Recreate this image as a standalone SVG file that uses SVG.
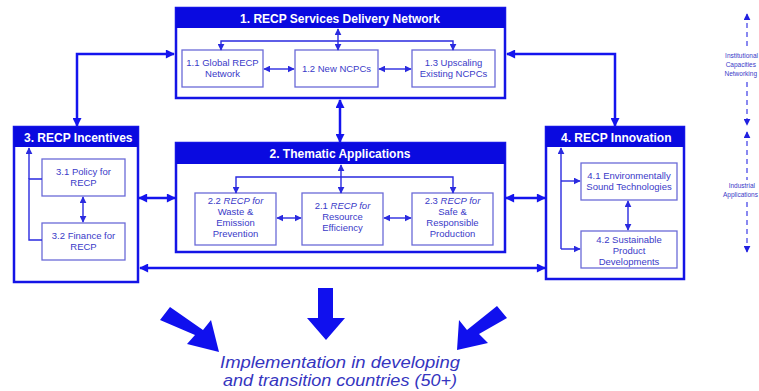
<svg xmlns="http://www.w3.org/2000/svg" width="759" height="391" viewBox="0 0 759 391">
<defs>
<style>
.main{fill:#fff;stroke:#1414e6;stroke-width:2.5}
.hdr{fill:#0a0ae0}
.ht{font-family:"Liberation Sans",Arial,sans-serif;font-weight:bold;font-size:12px;fill:#fff}
.sub{fill:#fff;stroke:#6a6ad8;stroke-width:1.3}
.st{font-family:"Liberation Sans",Arial,sans-serif;font-size:9.5px;fill:#3a3ac8;text-anchor:middle}
.thick{fill:none;stroke:#1414ee;stroke-width:2.5}
.thin{fill:none;stroke:#2a2ae0;stroke-width:1.4}
.dash{fill:none;stroke:#4a4ae8;stroke-width:1.3;stroke-dasharray:5,4}
.side{font-family:"Liberation Sans",Arial,sans-serif;font-size:6.5px;fill:#3a3ac8;text-anchor:end}
.big{fill:#1010ee}
.imp{font-family:"Liberation Sans",Arial,sans-serif;font-style:italic;font-size:16px;fill:#3535c0;text-anchor:middle}
</style>
<marker id="ah" viewBox="0 0 10 10" refX="9" refY="5" markerWidth="10" markerHeight="9" markerUnits="userSpaceOnUse" orient="auto-start-reverse"><path d="M0,0L10,5L0,10z" fill="#1414ee"/></marker>
<marker id="as" viewBox="0 0 10 10" refX="9" refY="5" markerWidth="7" markerHeight="7" markerUnits="userSpaceOnUse" orient="auto-start-reverse"><path d="M0,0L10,5L0,10z" fill="#2a2ae0"/></marker>
<marker id="ad" viewBox="0 0 10 10" refX="9" refY="5" markerWidth="7" markerHeight="7" markerUnits="userSpaceOnUse" orient="auto-start-reverse"><path d="M0,0L10,5L0,10z" fill="#2020e0"/></marker>
</defs>
<rect width="759" height="391" fill="#fff"/>

<g id="box1">
<rect class="main" x="176" y="8" width="329" height="90"/>
<rect class="hdr" x="176" y="8" width="329" height="20"/>
<text class="ht" x="340" y="22.5" text-anchor="middle">1. RECP Services Delivery Network</text>
</g>
<g id="n11"><rect class="sub" x="182" y="50" width="81" height="37"/><text class="st" x="222.5" y="66">1.1 Global RECP</text><text class="st" x="222.5" y="77">Network</text></g>
<g id="n12"><rect class="sub" x="295" y="50" width="83" height="37"/><text class="st" x="336.5" y="72">1.2 New NCPCs</text></g>
<g id="n13"><rect class="sub" x="412" y="50" width="83" height="37"/><text class="st" x="453.5" y="66">1.3 Upscaling</text><text class="st" x="453.5" y="77">Existing NCPCs</text></g>

<g id="box2">
<rect class="main" x="176" y="143" width="329" height="109"/>
<rect class="hdr" x="176" y="143" width="329" height="21"/>
<text class="ht" x="340" y="158" text-anchor="middle">2. Thematic Applications</text>
</g>
<g id="n22"><rect class="sub" x="195" y="193" width="81" height="52"/><text class="st" x="235.5" y="204">2.2 <tspan font-style="italic">RECP for</tspan></text><text class="st" x="235.5" y="215">Waste &amp;</text><text class="st" x="235.5" y="226">Emission</text><text class="st" x="235.5" y="237">Prevention</text></g>
<g id="n21"><rect class="sub" x="302" y="193" width="81" height="52"/><text class="st" x="342.5" y="209">2.1 <tspan font-style="italic">RECP for</tspan></text><text class="st" x="342.5" y="220">Resource</text><text class="st" x="342.5" y="231">Efficiency</text></g>
<g id="n23"><rect class="sub" x="412" y="193" width="81" height="52"/><text class="st" x="452.5" y="204">2.3 <tspan font-style="italic">RECP for</tspan></text><text class="st" x="452.5" y="215">Safe &amp;</text><text class="st" x="452.5" y="226">Responsible</text><text class="st" x="452.5" y="237">Production</text></g>

<g id="box3">
<rect class="main" x="14" y="127" width="124" height="155"/>
<rect class="hdr" x="14" y="127" width="124" height="20"/>
<text class="ht" x="24" y="141.5">3. RECP Incentives</text>
</g>
<g id="n31"><rect class="sub" x="42" y="159" width="83" height="37"/><text class="st" x="83.5" y="175">3.1 Policy for</text><text class="st" x="83.5" y="186">RECP</text></g>
<g id="n32"><rect class="sub" x="42" y="223" width="83" height="37"/><text class="st" x="83.5" y="239">3.2 Finance for</text><text class="st" x="83.5" y="250">RECP</text></g>

<g id="box4">
<rect class="main" x="546" y="127" width="138" height="152"/>
<rect class="hdr" x="546" y="127" width="138" height="20"/>
<text class="ht" x="561" y="141.5">4. RECP Innovation</text>
</g>
<g id="n41"><rect class="sub" x="581" y="163" width="96" height="37"/><text class="st" x="629" y="179">4.1 Environmentally</text><text class="st" x="629" y="190">Sound Technologies</text></g>
<g id="n42"><rect class="sub" x="581" y="231" width="96" height="37"/><text class="st" x="629" y="243">4.2 Sustainable</text><text class="st" x="629" y="254">Product</text><text class="st" x="629" y="265">Developments</text></g>

<g id="connectors">
<path class="thin" d="M221,50V41H453V50" marker-start="url(#as)" marker-end="url(#as)"/>
<path class="thin" d="M338,29V50" marker-start="url(#as)" marker-end="url(#as)"/>
<path class="thin" d="M264,69H294" marker-start="url(#as)" marker-end="url(#as)"/>
<path class="thin" d="M379,69H411" marker-start="url(#as)" marker-end="url(#as)"/>
<path class="thin" d="M236,193V177H453V193" marker-start="url(#as)" marker-end="url(#as)"/>
<path class="thin" d="M341,165V193" marker-start="url(#as)" marker-end="url(#as)"/>
<path class="thin" d="M277,218H301" marker-start="url(#as)" marker-end="url(#as)"/>
<path class="thin" d="M384,218H411" marker-start="url(#as)" marker-end="url(#as)"/>
<path class="thin" d="M42,179H29V240H42"/>
<path class="thin" d="M29,179V148" marker-end="url(#as)"/>
<path class="thin" d="M83,197V222" marker-start="url(#as)" marker-end="url(#as)"/>
<path class="thin" d="M561,249V148" marker-end="url(#as)"/>
<path class="thin" d="M561,181H580" marker-end="url(#as)"/>
<path class="thin" d="M561,249H580" marker-end="url(#as)"/>
<path class="thin" d="M628,201V230" marker-start="url(#as)" marker-end="url(#as)"/>
<path class="thick" d="M77,126V54H174" marker-start="url(#ah)" marker-end="url(#ah)"/>
<path class="thick" d="M507,54H615V126" marker-start="url(#ah)" marker-end="url(#ah)"/>
<path class="thick" d="M340,100V142" marker-start="url(#ah)" marker-end="url(#ah)"/>
<path class="thick" d="M139,198H175" marker-start="url(#ah)" marker-end="url(#ah)"/>
<path class="thick" d="M506,198H545" marker-start="url(#ah)" marker-end="url(#ah)"/>
<path class="thick" d="M140,268H545" marker-start="url(#ah)" marker-end="url(#ah)"/>
<path class="dash" d="M747,14V50" marker-start="url(#ad)"/>
<path class="dash" d="M747,82V125" marker-end="url(#ad)"/>
<path class="dash" d="M747,132V180" marker-start="url(#ad)"/>
<path class="dash" d="M747,202V252" marker-end="url(#ad)"/>
</g>

<g id="side-labels">
<text class="side" x="758" y="58">Institutional</text>
<text class="side" x="756" y="67">Capacities</text>
<text class="side" x="757" y="76">Networking</text>
<text class="side" x="755" y="188">Industrial</text>
<text class="side" x="758" y="197">Applications</text>
</g>

<g id="big-arrows">
<path class="big" d="M318,288H333V318H345L326,340L307,318H318Z"/>
<path class="big" d="M160,320L170,307L203,330L211,320L219,352L187,344L195,335Z"/>
<path class="big" d="M507,318L497,306L467,330L459,320L457,350L488,343L479,334Z"/>
</g>

<g id="impl">
<text class="imp" x="340" y="368" textLength="240" lengthAdjust="spacingAndGlyphs">Implementation in developing</text>
<text class="imp" x="340" y="386" textLength="234" lengthAdjust="spacingAndGlyphs">and transition countries (50+)</text>
</g>
</svg>
